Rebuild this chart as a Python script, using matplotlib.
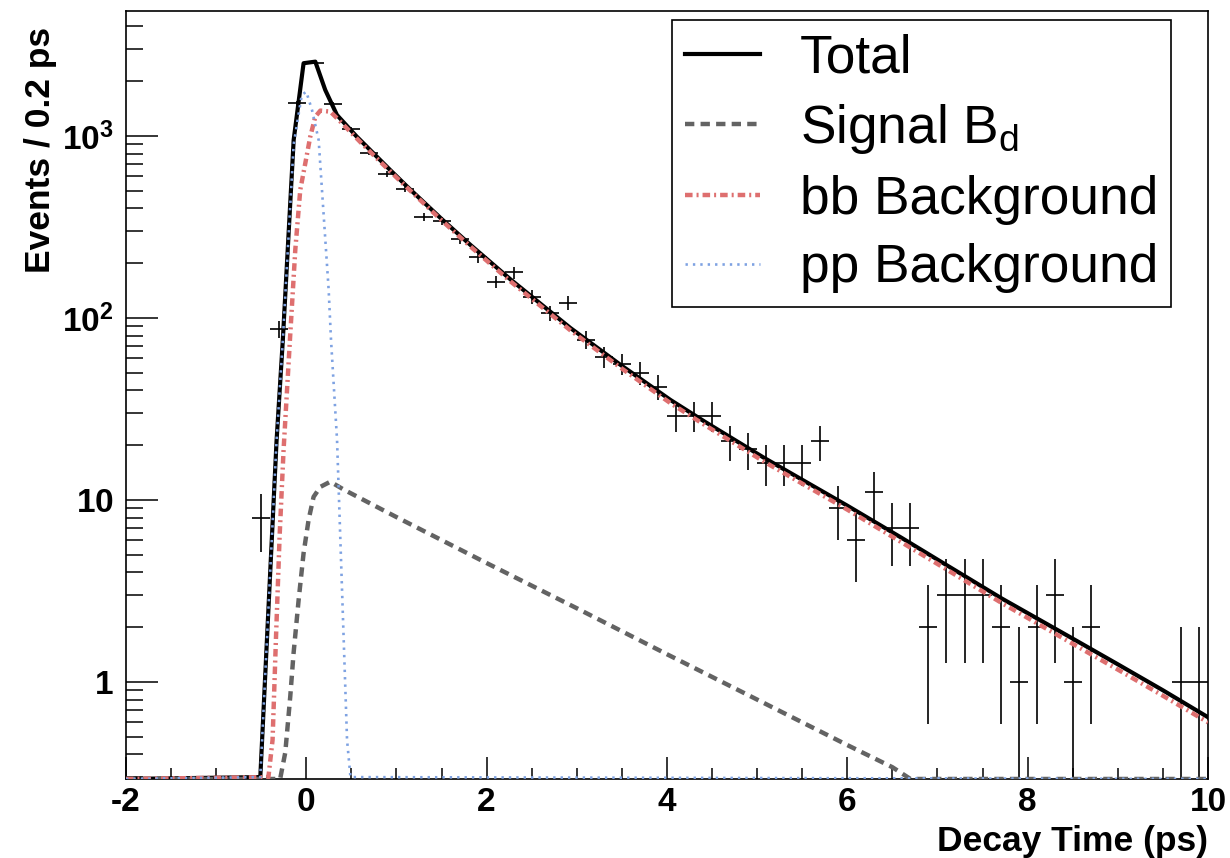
import numpy as np
import matplotlib
matplotlib.use("Agg")
import matplotlib.pyplot as plt
from matplotlib.ticker import MultipleLocator, LogLocator, NullFormatter

plt.rcParams['font.family'] = ['Liberation Sans', 'DejaVu Sans']
plt.rcParams['mathtext.fontset'] = 'custom'
plt.rcParams['mathtext.rm'] = 'Liberation Sans'
plt.rcParams['mathtext.bf'] = 'Liberation Sans:bold'
plt.rcParams['mathtext.it'] = 'Liberation Sans:italic'
plt.rcParams['axes.unicode_minus'] = False

############################################################################
# data : 0.2 ps bins, only the non-empty bins

bin_t = [-0.5, -0.3, -0.1, 0.1, 0.3, 0.5, 0.7, 0.9, 1.1, 1.3,
         1.5, 1.7, 1.9, 2.1, 2.3, 2.5, 2.7, 2.9, 3.1, 3.3,
         3.5, 3.7, 3.9, 4.1, 4.3, 4.5, 4.7, 4.9, 5.1, 5.3,
         5.5, 5.7, 5.9, 6.1, 6.3, 6.5, 6.7, 6.9, 7.1, 7.3,
         7.5, 7.7, 7.9, 8.1, 8.3, 8.5, 8.7, 9.7, 9.9]
counts = [8, 87, 1510, 2530, 1500, 1090, 810, 620, 512, 360,
          341, 272, 215, 158, 178, 131, 106, 121, 76, 61,
          56, 50, 42, 29, 29, 29, 21, 19, 16, 16,
          16, 21, 9, 6, 11, 7, 7, 2, 3, 3,
          3, 2, 1, 2, 3, 1, 2, 1, 1]
bin_half = 0.1

# fit components
total_t = [-2.0, -0.51, -0.33, -0.26, -0.14, -0.03, 0.10, 0.21, 0.34, 0.56,
           0.93, 1.12, 1.5, 1.82, 2.27, 2.93, 3.49, 4.04, 4.42, 5.08,
           6.0, 6.6, 7.0, 7.71, 8.5, 9.0, 9.5, 10.0]
total_y = [0.001, 0.3, 21, 76, 950, 2510, 2560, 1790, 1304, 991,
           650, 526, 350, 252, 162, 88, 55, 35.4, 26.9, 17.0,
           9.3, 6.2, 4.7, 2.88, 1.73, 1.25, 0.9, 0.64]

signal_t = [-2.0, -0.29, -0.233, -0.178, -0.141, -0.085, -0.03, 0.026, 0.081, 0.156,
            0.267, 0.415, 1.0, 2.0, 3.0, 4.0, 5.0, 6.0, 6.5, 6.7, 10.0]
signal_y = [0.001, 0.29, 0.41, 0.83, 1.44, 2.82, 5.1, 7.8, 10.4, 11.8,
            12.6, 11.4, 8.05, 4.5, 2.54, 1.42, 0.80, 0.45, 0.34, 0.29, 0.001]

bb_t = [-2.0, -0.42, -0.374, -0.337, -0.296, -0.252, -0.178, -0.122, -0.067, -0.011,
        0.044, 0.10, 0.156, 0.267, 0.378, 0.6, 0.82, 1.08, 1.5, 1.82,
        2.27, 2.93, 3.49, 4.04, 4.42, 5.08, 6.0, 6.6, 7.0,
        7.71, 8.5, 9.0, 9.5, 10.0]
bb_y = [0.001, 0.3, 0.48, 1.7, 6.3, 18.8, 81, 237, 505, 708,
        991, 1276, 1378, 1360, 1199, 925, 722, 542, 344, 247,
        158, 85.4, 53.1, 34.0, 25.8, 16.2, 8.85, 5.86, 4.45,
        2.72, 1.62, 1.17, 0.84, 0.6]

pp_t = [-2.0, -0.51, -0.33, -0.26, -0.14, -0.05, 0.0, 0.063, 0.137, 0.174,
        0.211, 0.248, 0.274, 0.341, 0.378, 0.415, 0.452, 0.49, 10.0]
pp_y = [0.001, 0.3, 21, 76, 900, 1680, 1750, 1390, 950, 505,
        269, 143, 76, 21.4, 6.0, 1.7, 0.48, 0.3, 0.001]

x_ticks = [-2, 0, 2, 4, 6, 8, 10]
x_tick_labels = ['-2', '0', '2', '4', '6', '8', '10']
y_ticks = [1, 10, 100, 1000]
y_tick_labels = [r'$\mathbf{1}$', r'$\mathbf{10}$', r'$\mathbf{10^{2}}$', r'$\mathbf{10^{3}}$']

labels = ['Total', r'Signal B$_{\mathregular{d}}$', 'bb Background', 'pp Background']

############################################################################

ymin, ymax = 0.293, 4860

fig = plt.figure(figsize=(12.3, 8.58), dpi=100)
ax = fig.add_axes([0.1024, 0.0921, 0.8797, 0.8951])

# data points with sqrt(N) errors
n = np.array(counts, dtype=float)
err = np.sqrt(n)
low = np.minimum(err, n - 1e-3)
ax.errorbar(bin_t, n, xerr=bin_half, yerr=[low, err], fmt='none',
            ecolor='black', elinewidth=1.2, capsize=0, zorder=2)

def clipped(y):
  return np.clip(np.array(y, dtype=float), ymin, None)

ax.plot(total_t, clipped(total_y), color='black', lw=3.0,
        label=labels[0], zorder=3)
ax.plot(signal_t, clipped(signal_y), color='#636363', lw=3.2,
        ls=(0, (2.1, 1.4)), label=labels[1], zorder=4)
ax.plot(bb_t, clipped(bb_y), color='#de6f6f', lw=3.2,
        ls=(0, (1.7, 0.9, 0.45, 0.9)), label=labels[2], zorder=5)
ax.plot(pp_t, clipped(pp_y), color='#7ea2e2', lw=1.9,
        ls=(0, (0.9, 1.9)), label=labels[3], zorder=6)

ax.set_yscale('log')
ax.set_xlim(-2, 10)
ax.set_ylim(ymin, ymax)

ax.set_xticks(x_ticks, labels=x_tick_labels, fontsize=24, fontweight='bold')
ax.xaxis.set_minor_locator(MultipleLocator(0.5))
ax.set_yticks(y_ticks, labels=y_tick_labels, fontsize=24)
ax.yaxis.set_minor_locator(LogLocator(base=10, subs=np.arange(2, 10)))
ax.yaxis.set_minor_formatter(NullFormatter())

ax.tick_params(axis='x', which='major', direction='in', length=16, width=1.1, pad=6)
ax.tick_params(axis='x', which='minor', direction='in', length=8, width=1.1)
ax.tick_params(axis='y', which='major', direction='in', length=23, width=1.1, pad=9)
ax.tick_params(axis='y', which='minor', direction='in', length=12, width=1.1)

for sp in ax.spines.values():
  sp.set_linewidth(1.2)

ax.set_xlabel('Decay Time (ps)', fontsize=25.5, fontweight='bold', loc='right')
ax.xaxis.set_label_coords(1.0, -0.060)
ax.set_ylabel('Events / 0.2 ps', fontsize=25.5, fontweight='bold', loc='top')
ax.yaxis.set_label_coords(-0.064, 0.979)

leg = ax.legend(loc='upper left', bbox_to_anchor=(0.5045, 0.988), borderaxespad=0,
                fontsize=38.3, frameon=True, fancybox=False, framealpha=1,
                edgecolor='black', borderpad=0.25, labelspacing=0.35,
                handlelength=1.4, handletextpad=0.75)
leg.get_frame().set_linewidth(1.2)

fig.savefig('out.png', dpi=100)
